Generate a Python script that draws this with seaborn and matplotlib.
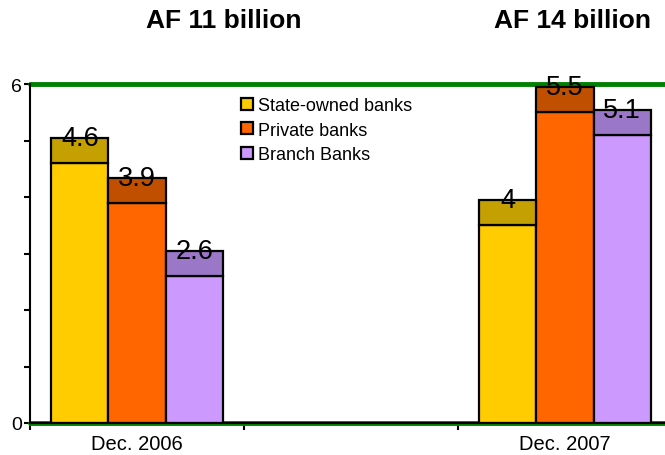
import matplotlib
matplotlib.use("Agg")
import matplotlib.pyplot as plt
from matplotlib.patches import Patch
import seaborn as sns
import pandas as pd

# ---- data ----
periods = ["Dec. 2006", "Dec. 2007"]
slots = ["Dec. 2006", " ", "Dec. 2007"]
banks = ["State-owned banks", "Private banks", "Branch Banks"]
state_owned = [4.6, 3.5]
private = [3.9, 5.5]
branch = [2.6, 5.1]
state_labels = ["4.6", "4"]
private_labels = ["3.9", "5.5"]
branch_labels = ["2.6", "5.1"]
titles = ["AF 11 billion", "AF 14 billion"]
y_ticklabels = ["0", "", "", "", "", "", "6"]

values = [state_owned, private, branch]
labels = [state_labels, private_labels, branch_labels]

front_colors = ["#FFCC00", "#FF6600", "#CC99FF"]
top_colors = ["#C4A000", "#C05000", "#9B77C8"]
green = "#008000"
depth = 0.44

rows = []
for b, vals in zip(banks, values):
    for p, v in zip(periods, vals):
        rows.append({"period": p, "bank": b, "value": v})
df = pd.DataFrame(rows)

sns.set_style("white")
plt.rcParams["font.family"] = ["Liberation Sans", "DejaVu Sans"]
plt.rcParams["text.color"] = "black"
plt.rcParams["xtick.color"] = "black"
plt.rcParams["ytick.color"] = "black"

fig = plt.figure(figsize=(6.65, 4.56), dpi=100)
ax = fig.add_axes([30 / 665, 32 / 456, 642 / 665, 339 / 456])

sns.barplot(data=df, x="period", y="value", hue="bank", order=slots,
            hue_order=banks, palette=front_colors, saturation=1, width=0.8,
            edgecolor="black", linewidth=1.6, ax=ax, legend=False, zorder=3)

containers = list(ax.containers)
for hi, cont in enumerate(containers):
    for bar in list(cont):
        h = bar.get_height()
        if h != h or h == 0:
            continue
        xc = bar.get_x() + bar.get_width() / 2
        slot = int(round(xc))
        pi = periods.index(slots[slot])
        ax.bar(bar.get_x(), depth, bottom=h, width=bar.get_width(), align="edge",
               color=top_colors[hi], edgecolor="black", linewidth=1.6, zorder=3)
        ax.text(xc, h + depth, labels[hi][pi], ha="center", va="center",
                fontsize=19.5, color="black", zorder=5)

ax.set_xlim(-0.5, 2.5)
ax.set_ylim(0, 6)
ax.axhline(0, color=green, lw=3.5, zorder=2, clip_on=False)
ax.axhline(6, color=green, lw=3.5, zorder=2, clip_on=False)

ax.set_yticks(range(7))
ax.set_yticklabels(y_ticklabels, fontsize=14, color="black")
ax.tick_params(axis="y", direction="out", length=4, width=1.5, pad=2, left=True)

ax.set_xticks([-0.5, 0.5, 1.5, 2.5])
ax.set_xticklabels([])
ax.tick_params(axis="x", which="major", direction="out", length=5, width=1.5, bottom=True)
ax.set_xticks([0, 2], minor=True)
ax.set_xticklabels(periods, minor=True, fontsize=14.5, color="black")
ax.tick_params(axis="x", which="minor", length=0, pad=8)

ax.set_xlabel("")
ax.set_ylabel("")
for s in ["top", "right"]:
    ax.spines[s].set_visible(False)
for s in ["left", "bottom"]:
    ax.spines[s].set_color("black")
    ax.spines[s].set_linewidth(1.5)
    ax.spines[s].set_zorder(4)

fig.text(224 / 665, 1 - 21 / 456, titles[0], ha="center", va="center",
         fontsize=19, fontweight="bold", color="black")
fig.text(573 / 665, 1 - 21 / 456, titles[1], ha="center", va="center",
         fontsize=19, fontweight="bold", color="black")

handles = [Patch(facecolor=c, edgecolor="black", linewidth=1.6) for c in front_colors]
ax.legend(handles, banks, loc="upper left", bbox_to_anchor=(241 / 665, 1 - 98 / 456),
          bbox_transform=fig.transFigure, frameon=False, fontsize=13,
          handlelength=0.65, handleheight=0.65, handletextpad=0.3,
          labelspacing=0.42, borderpad=0, borderaxespad=0, labelcolor="black")

fig.savefig("out.png", dpi=100)
